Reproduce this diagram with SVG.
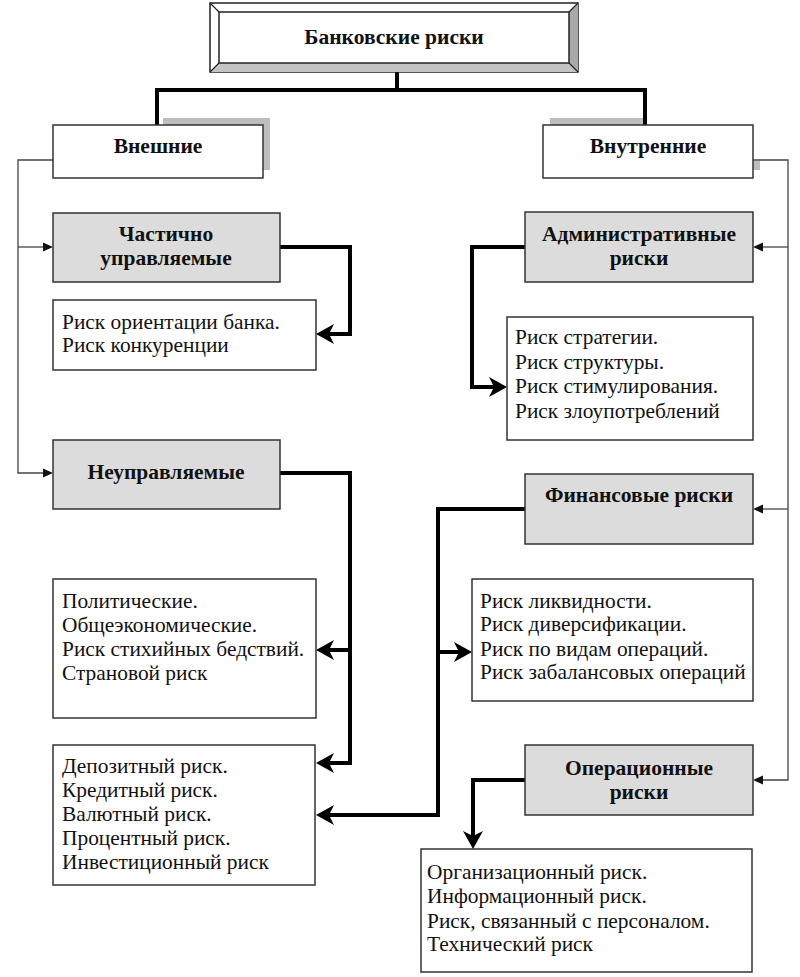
<svg xmlns="http://www.w3.org/2000/svg" width="800" height="977" viewBox="0 0 800 977">
<style>
.box{fill:#fff;stroke:#333;stroke-width:1.5}
.gbox{fill:#dcdcdc;stroke:#333;stroke-width:1.5}
.shadow{fill:#bdbdbd}
.h{font-family:'Liberation Serif','Times New Roman',Times,'DejaVu Serif',serif;font-weight:bold;font-size:21.5px;fill:#111;text-anchor:middle}
.t{font-family:'Liberation Serif','Times New Roman',Times,'DejaVu Serif',serif;font-size:21.4px;fill:#111}
.thin{fill:none;stroke:#444;stroke-width:1.3}
.thick{fill:none;stroke:#000;stroke-width:4}
</style>
<defs>
<marker id="ah" markerUnits="userSpaceOnUse" viewBox="0 -5 10 10" refX="0" refY="0" markerWidth="10" markerHeight="10" orient="auto">
<path d="M0,-4.5 L10,0 L0,4.5 Z" fill="#111"/>
</marker>
<marker id="ahb" markerUnits="userSpaceOnUse" viewBox="-10 -12 22 24" refX="0" refY="0" markerWidth="22" markerHeight="24" orient="auto">
<path d="M10,0 L-8,-10 L-3,0 L-8,10 Z" fill="#000"/>
</marker>
</defs>

<g id="connectors">
<path class="thick" d="M397,72 V90 M155,90 H647 M157,88 V125 M645,88 V125"/>
<path class="thin" d="M53,160 H18 V473 H43" marker-end="url(#ah)"/>
<path class="thin" d="M18,247 H43" marker-end="url(#ah)"/>
<path class="thin" d="M753,160 H788 V780 H763" marker-end="url(#ah)"/>
<path class="thin" d="M788,247 H763" marker-end="url(#ah)"/>
<path class="thin" d="M788,509 H763" marker-end="url(#ah)"/>
<path class="thick" d="M280,247 H350 V334 H326" marker-end="url(#ahb)"/>
<path class="thick" d="M280,473 H350 V763 H326" marker-end="url(#ahb)"/>
<path class="thick" d="M350,650 H326" marker-end="url(#ahb)"/>
<path class="thick" d="M525,509 H438 V815 H326" marker-end="url(#ahb)"/>
<path class="thick" d="M438,652 H462" marker-end="url(#ahb)"/>
<path class="thick" d="M525,247 H472 V387 H497" marker-end="url(#ahb)"/>
<path class="thick" d="M525,780 H473 V839" marker-end="url(#ahb)"/>
</g>

<g id="bank-risks">
<rect x="210" y="3" width="368" height="69" fill="#fff" stroke="#222" stroke-width="1.5"/>
<polygon points="578,3 578,72 569,63 569,12" fill="#a9a9a9"/>
<polygon points="210,72 578,72 569,63 219,63" fill="#c4c4c4"/>
<rect x="219" y="12" width="350" height="51" fill="#fff" stroke="#222" stroke-width="1.5"/>
<path d="M210,3 L219,12 M578,3 L569,12 M210,72 L219,63 M578,72 L569,63" stroke="#222" stroke-width="1.2"/>
<text class="h" x="394" y="44">Банковские риски</text>
</g>

<g id="external">
<rect class="shadow" x="163" y="118" width="107" height="8"/>
<rect class="shadow" x="262" y="118" width="8" height="52"/>
<rect class="box" x="53" y="125" width="210" height="53"/>
<text class="h" x="158" y="153">Внешние</text>
</g>

<g id="internal">
<rect class="shadow" x="550" y="118" width="93" height="8"/>
<rect class="shadow" x="753" y="161" width="7" height="9"/>
<rect class="box" x="543" y="125" width="210" height="53"/>
<text class="h" x="648" y="153">Внутренние</text>
</g>

<g id="partly-managed">
<rect class="gbox" x="53" y="213" width="227" height="69"/>
<text class="h" x="166" y="241">Частично</text>
<text class="h" x="166" y="265">управляемые</text>
</g>

<g id="partly-list">
<rect class="box" x="53" y="300" width="263" height="70"/>
<text class="t" x="62" y="329">Риск ориентации банка.</text>
<text class="t" x="62" y="352">Риск конкуренции</text>
</g>

<g id="unmanaged">
<rect class="gbox" x="53" y="440" width="227" height="69"/>
<text class="h" x="166" y="479">Неуправляемые</text>
</g>

<g id="unmanaged-list">
<rect class="box" x="53" y="579" width="263" height="139"/>
<text class="t" x="62" y="608">Политические.</text>
<text class="t" x="62" y="632">Общеэкономические.</text>
<text class="t" x="62" y="656">Риск стихийных бедствий.</text>
<text class="t" x="62" y="680">Страновой риск</text>
</g>

<g id="deposit-list">
<rect class="box" x="53" y="745" width="262" height="140"/>
<text class="t" x="62" y="773">Депозитный риск.</text>
<text class="t" x="62" y="797">Кредитный риск.</text>
<text class="t" x="62" y="821">Валютный риск.</text>
<text class="t" x="62" y="845">Процентный риск.</text>
<text class="t" x="62" y="869">Инвестиционный риск</text>
</g>

<g id="administrative">
<rect class="gbox" x="525" y="212" width="228" height="70"/>
<text class="h" x="639" y="241">Административные</text>
<text class="h" x="639" y="265">риски</text>
</g>

<g id="administrative-list">
<rect class="box" x="507" y="317" width="246" height="123"/>
<text class="t" x="515" y="344">Риск стратегии.</text>
<text class="t" x="515" y="369">Риск структуры.</text>
<text class="t" x="515" y="393">Риск стимулирования.</text>
<text class="t" x="515" y="418">Риск злоупотреблений</text>
</g>

<g id="financial">
<rect class="gbox" x="525" y="474" width="228" height="70"/>
<text class="h" x="639" y="502">Финансовые риски</text>
</g>

<g id="financial-list">
<rect class="box" x="472" y="579" width="281" height="122"/>
<text class="t" x="480" y="608">Риск ликвидности.</text>
<text class="t" x="480" y="631">Риск диверсификации.</text>
<text class="t" x="480" y="656">Риск по видам операций.</text>
<text class="t" x="480" y="679">Риск забалансовых операций</text>
</g>

<g id="operational">
<rect class="gbox" x="525" y="745" width="228" height="70"/>
<text class="h" x="639" y="775">Операционные</text>
<text class="h" x="639" y="799">риски</text>
</g>

<g id="operational-list">
<rect class="box" x="421" y="849" width="331" height="123"/>
<text class="t" x="427" y="879">Организационный риск.</text>
<text class="t" x="427" y="903">Информационный риск.</text>
<text class="t" x="427" y="928">Риск, связанный с персоналом.</text>
<text class="t" x="427" y="951">Технический риск</text>
</g>
</svg>
